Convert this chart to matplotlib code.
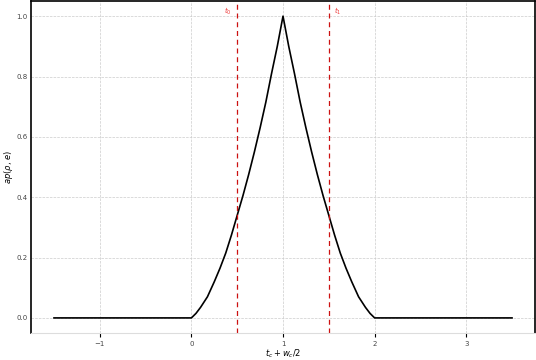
import matplotlib
matplotlib.use("Agg")
import matplotlib.pyplot as plt

# --- Curve values
t = [-1.5, 0.0, 0.05, 0.1, 0.175, 0.25, 0.3125, 0.375, 0.4375, 0.5,
     0.5625, 0.625, 0.6875, 0.75, 0.8125, 0.875, 0.9375, 1.0,
     1.0625, 1.125, 1.1875, 1.25, 1.3125, 1.375, 1.4375, 1.5,
     1.5625, 1.625, 1.6875, 1.75, 1.825, 1.9, 1.95, 2.0, 3.5]
p = [0.0, 0.0, 0.015, 0.035, 0.07, 0.12, 0.165, 0.215, 0.275, 0.34,
     0.405, 0.475, 0.55, 0.63, 0.715, 0.81, 0.90, 1.0,
     0.90, 0.81, 0.715, 0.63, 0.55, 0.475, 0.405, 0.34,
     0.275, 0.215, 0.165, 0.12, 0.07, 0.035, 0.015, 0.0, 0.0]

# --- Marker lines
t0, t1 = 0.5, 1.5

fig = plt.figure(figsize=(5.36, 3.6), dpi=100)
ax = fig.add_axes([0.058, 0.075, 0.94, 0.922])

ax.plot(t, p, color="black", lw=1.2)
ax.axvline(t0, color="#cc1111", ls=(0, (4, 3)), lw=0.9)
ax.axvline(t1, color="#cc1111", ls=(0, (4, 3)), lw=0.9)

ax.set_xlim(-1.75, 3.75)
ax.set_ylim(-0.05, 1.05)
ax.set_xticks([-1, 0, 1, 2, 3])
ax.set_yticks([0.0, 0.2, 0.4, 0.6, 0.8, 1.0])

ax.text(t0 - 0.06, 1.035, r"$t_0$", color="#ee3333", fontsize=5, ha="right", va="top")
ax.text(t1 + 0.06, 1.035, r"$t_1$", color="#ee3333", fontsize=5, ha="left", va="top")

ax.grid(True, ls="--", color="#cccccc", lw=0.5)
ax.tick_params(axis="both", labelsize=5, colors="#444444", length=3, width=0.8, pad=2.5)
ax.tick_params(axis="y", length=0)
ax.tick_params(axis="x", color="black")

ax.spines["bottom"].set_color("#dddddd")
for s in ["top", "left", "right"]:
    ax.spines[s].set_color("black")
    ax.spines[s].set_linewidth(1.2)

ax.set_xlabel(r"$t_c + w_c/2$", fontsize=6, labelpad=0.5)
ax.set_ylabel(r"$ap(\rho,\, e)$", fontsize=6, labelpad=1)

fig.savefig("out.png", dpi=100)
